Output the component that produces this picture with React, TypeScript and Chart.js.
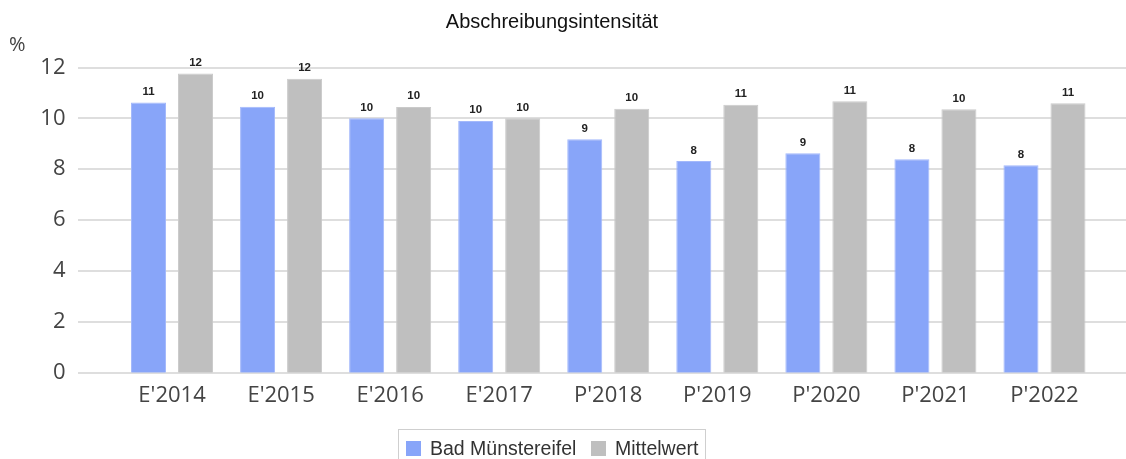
import React, { useEffect, useRef } from "react";
import { Chart, registerables } from "chart.js";

Chart.register(...registerables);

const categories = ["E'2014", "E'2015", "E'2016", "E'2017", "P'2018", "P'2019", "P'2020", "P'2021", "P'2022"];
const badMuenstereifel = [10.62, 10.46, 10.0, 9.9, 9.18, 8.32, 8.63, 8.39, 8.16];
const mittelwert = [11.76, 11.56, 10.45, 10.0, 10.38, 10.54, 10.67, 10.36, 10.59];
const yTicks = [0, 2, 4, 6, 8, 10, 12];
const seriesNames = ["Bad Münstereifel", "Mittelwert"];
const seriesColors = ["#88a5f9", "#bfbfbf"];
const titleText = "Abschreibungsintensität";
const unitText = "%";

const W = 1126;
const H = 459;

const gridPlugin = {
  id: "fullGrid",
  beforeDatasetsDraw(chart: any) {
    const ctx = chart.ctx;
    const y = chart.scales.y;
    ctx.save();
    ctx.strokeStyle = "#dedede";
    ctx.lineWidth = 2;
    yTicks.forEach((v) => {
      const py = Math.round(y.getPixelForValue(v));
      ctx.beginPath();
      ctx.moveTo(78, py);
      ctx.lineTo(W, py);
      ctx.stroke();
    });
    ctx.restore();
  },
};

const labelPlugin = {
  id: "valueLabels",
  afterDatasetsDraw(chart: any) {
    const ctx = chart.ctx;
    ctx.save();
    ctx.font = "bold 11.5px 'Liberation Sans', Arial, sans-serif";
    ctx.fillStyle = "#222";
    ctx.textAlign = "center";
    ctx.textBaseline = "bottom";
    chart.data.datasets.forEach((ds: any, i: number) => {
      const meta = chart.getDatasetMeta(i);
      meta.data.forEach((bar: any, j: number) => {
        ctx.fillText(String(Math.round(ds.data[j])), bar.x, bar.y - 5);
      });
    });
    ctx.restore();
  },
};

const decorPlugin = {
  id: "decor",
  afterDraw(chart: any) {
    const ctx = chart.ctx;
    ctx.save();
    // title
    ctx.font = "20px 'Liberation Sans', Arial, sans-serif";
    ctx.fillStyle = "#111";
    ctx.textAlign = "center";
    ctx.textBaseline = "alphabetic";
    ctx.fillText(titleText, 552, 28);
    // unit
    ctx.font = "20px 'Open Sans', sans-serif";
    ctx.fillStyle = "#444";
    ctx.textAlign = "left";
    ctx.fillText(unitText, 9, 51);
    // legend
    ctx.strokeStyle = "#cfcfcf";
    ctx.lineWidth = 1;
    ctx.strokeRect(398.5, 429.5, 307, 40);
    ctx.font = "19.5px 'Liberation Sans', Arial, sans-serif";
    const items = [
      { sx: 406, tx: 430 },
      { sx: 591, tx: 615 },
    ];
    items.forEach((it, i) => {
      ctx.fillStyle = seriesColors[i];
      ctx.fillRect(it.sx, 441, 15, 15);
      ctx.fillStyle = "#333";
      ctx.fillText(seriesNames[i], it.tx, 455);
    });
    ctx.restore();
  },
};

export default function App() {
  const ref = useRef<HTMLCanvasElement | null>(null);
  useEffect(() => {
    if (!ref.current) return;
    const chart = new Chart(ref.current, {
      type: "bar",
      data: {
        labels: categories,
        datasets: [
          {
            label: seriesNames[0],
            data: badMuenstereifel,
            backgroundColor: seriesColors[0],
            borderColor: "#a3b8fb",
            borderWidth: 1,
            categoryPercentage: 0.862,
            barPercentage: 0.745,
          },
          {
            label: seriesNames[1],
            data: mittelwert,
            backgroundColor: seriesColors[1],
            borderColor: "#cacaca",
            borderWidth: 1,
            categoryPercentage: 0.862,
            barPercentage: 0.745,
          },
        ],
      },
      options: {
        responsive: false,
        animation: false,
        layout: { padding: { top: 67.5, right: 27, left: 0, bottom: 0 } },
        plugins: {
          legend: { display: false },
          title: { display: false },
          tooltip: { enabled: false },
        },
        scales: {
          x: {
            grid: { display: false, drawTicks: false },
            border: { display: false },
            ticks: {
              font: { family: "'Open Sans', sans-serif", size: 22 },
              color: "#444",
              padding: 10,
              maxRotation: 0,
              autoSkip: false,
            },
            afterFit: (s: any) => {
              s.height = 86.3;
            },
          },
          y: {
            min: 0,
            max: 12,
            grid: { display: false, drawTicks: false },
            border: { display: false },
            ticks: {
              stepSize: 2,
              font: { family: "'Open Sans', sans-serif", size: 22 },
              color: "#444",
              padding: 52,
            },
            afterFit: (s: any) => {
              s.width = 117.5;
            },
          },
        },
      },
      plugins: [gridPlugin, labelPlugin, decorPlugin],
    });
    return () => chart.destroy();
  }, []);
  return (
    <div style={{ position: "absolute", left: 0, top: 0, width: W, height: H, background: "#fff" }}>
      <canvas ref={ref} width={W} height={H} style={{ display: "block" }} />
    </div>
  );
}
